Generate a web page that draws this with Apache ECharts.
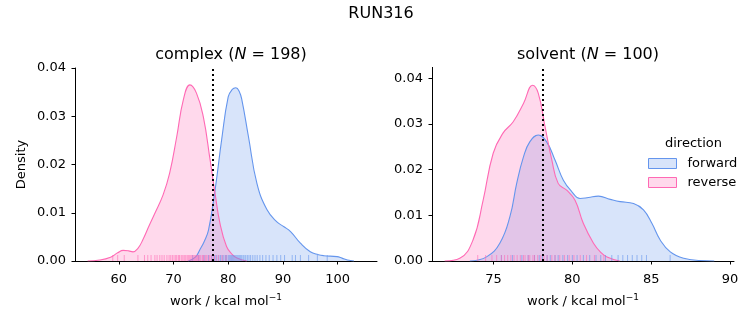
<!DOCTYPE html>
<html>
<head>
<meta charset="utf-8">
<script src="https://cdn.jsdelivr.net/npm/echarts@6/dist/echarts.min.js"></script>
<style>html,body{margin:0;padding:0;background:#fff}#c{width:753px;height:325px}</style>
</head>
<body>
<div id="c"></div>
<script>
// ---- data ----
const suptitle = 'RUN316';
const panelNames = ['complex', 'solvent'];
const panelN = [198, 100];
const directions = ['forward', 'reverse'];

// complex KDE curves
const complexForwardX = [72.7, 74.0, 74.8, 75.6, 76.4, 77.6, 78.8, 80.0, 80.7, 81.4, 82.0, 82.5, 83.7, 85.25, 87.1, 88.9, 90.2, 91.4, 93.2, 95.0, 96.5, 97.5, 99.9, 100.8, 101.8, 103.0];
const complexForwardY = [0, 0.0008, 0.0023, 0.0040, 0.0064, 0.0147, 0.0251, 0.0340, 0.0355, 0.0359, 0.0352, 0.0334, 0.0258, 0.0161, 0.0106, 0.0081, 0.0071, 0.0061, 0.0037, 0.0019, 0.0013, 0.0011, 0.0009, 0.0006, 0.0002, 0];
const complexReverseX = [54.3, 56.5, 58.5, 59.8, 60.8, 61.8, 62.6, 63.5, 64.4, 65.5, 66.6, 68.1, 69.3, 70.6, 71.8, 73.0, 74.2, 75.45, 76.7, 77.6, 78.5, 79.7, 80.7, 81.6, 83.4];
const complexReverseY = [0, 0.0002, 0.0008, 0.0017, 0.0022, 0.0021, 0.0019, 0.0026, 0.0044, 0.0072, 0.0099, 0.0137, 0.0182, 0.0258, 0.0334, 0.0365, 0.0348, 0.0299, 0.0209, 0.0140, 0.0078, 0.0030, 0.0014, 0.0006, 0];

// solvent KDE curves
const solventForwardX = [73.5, 74.56, 75.4, 76.04, 76.47, 76.9, 77.3, 77.84, 78.37, 78.9, 79.43, 79.96, 80.49, 81.02, 81.65, 82.4, 83.03, 83.88, 84.51, 85.05, 85.57, 86.21, 87.06, 88.1, 89.0];
const solventForwardY = [0, 0.0009, 0.0039, 0.0097, 0.0170, 0.0228, 0.0261, 0.0276, 0.0261, 0.0221, 0.0177, 0.0152, 0.0137, 0.0139, 0.0142, 0.0135, 0.0130, 0.0126, 0.0112, 0.0082, 0.0046, 0.0020, 0.0006, 0.0001, 0];
const solventReverseX = [71.9, 72.86, 73.7, 74.34, 74.98, 75.6, 76.25, 76.9, 77.48, 77.84, 78.27, 78.7, 79.1, 79.64, 80.17, 80.7, 81.34, 81.8, 82.2, 83.0];
const solventReverseY = [0, 0.0006, 0.0046, 0.0133, 0.0236, 0.0280, 0.0305, 0.0345, 0.0385, 0.0367, 0.0294, 0.0221, 0.0170, 0.0155, 0.0133, 0.0082, 0.0039, 0.0019, 0.0009, 0];

// rug samples
const complexForwardRug = [73.5, 74.6, 75.6, 76.4, 77.0, 77.5, 77.9, 78.3, 78.6, 78.9, 79.2, 79.5, 79.7, 80.0, 80.2, 80.4, 80.6, 80.8, 81.0, 81.2, 81.4, 81.6, 81.8, 82.0, 82.2, 82.4, 82.7, 82.9, 83.2, 83.5, 83.8, 84.1, 84.5, 84.9, 85.3, 85.8, 86.3, 86.9, 87.5, 88.2, 88.9, 89.6, 90.3, 91.7, 92.3, 93.2, 94.7, 96.3, 98.1];
const complexReverseRug = [58.9, 59.8, 61.0, 63.5, 64.7, 65.3, 65.9, 66.6, 67.0, 67.5, 67.9, 68.3, 68.8, 69.2, 69.5, 69.8, 70.1, 70.4, 70.6, 70.9, 71.1, 71.4, 71.6, 71.9, 72.1, 72.3, 72.6, 72.8, 73.0, 73.2, 73.4, 73.6, 73.8, 74.0, 74.2, 74.4, 74.6, 74.8, 75.0, 75.3, 75.5, 75.8, 76.0, 76.3, 76.6, 76.9, 77.3, 77.7, 78.2, 78.9, 79.6];
const solventForwardRug = [75.5, 76.2, 76.8, 77.2, 77.6, 77.9, 78.1, 78.4, 78.6, 78.9, 79.1, 79.4, 79.7, 80.0, 80.3, 80.7, 81.1, 81.5, 81.8, 82.1, 82.5, 82.9, 83.2, 83.5, 83.8, 84.1, 84.4, 84.7, 86.2];
const solventReverseRug = [74.0, 74.5, 74.9, 75.2, 75.5, 75.7, 75.9, 76.1, 76.3, 76.5, 76.7, 76.9, 77.0, 77.2, 77.3, 77.5, 77.6, 77.8, 78.0, 78.2, 78.4, 78.7, 78.9, 79.2, 79.5, 79.8, 80.1, 80.5, 80.9, 81.4, 82.0];

// dotted reference lines
const refLines = [77.2, 78.1];

// axis ticks / ranges
const xTicks = [[60, 70, 80, 90, 100], [75, 80, 85, 90]];
const yTicks = [0, 0.01, 0.02, 0.03, 0.04];
const xRanges = [[52.0, 107.2], [71.1, 90.25]];
const yMax = [0.0400, 0.0424];

// ---- styling ----
const FONT = 'DejaVu Sans';
const colors = {forward: '#6495ED', reverse: '#FF69B4'};
const fills = {forward: 'rgba(100,149,237,0.25)', reverse: 'rgba(255,105,180,0.25)'};

const zip = (xs, ys) => xs.map((x, i) => [x, ys[i]]);
const curves = [
  {forward: zip(complexForwardX, complexForwardY), reverse: zip(complexReverseX, complexReverseY)},
  {forward: zip(solventForwardX, solventForwardY), reverse: zip(solventReverseX, solventReverseY)}
];
const rugs = [
  {forward: complexForwardRug, reverse: complexReverseRug},
  {forward: solventForwardRug, reverse: solventReverseRug}
];

const grids = [
  {left: 75, right: 376, top: 68, bottom: 64},
  {left: 432, right: 19, top: 67.4, bottom: 64}
];

const axisCommon = {
  axisLine: {show: true, lineStyle: {color: '#000', width: 1}},
  axisTick: {show: true, length: 3.5, lineStyle: {color: '#000', width: 1}},
  splitLine: {show: false},
  axisLabel: {color: '#000', fontFamily: FONT, fontSize: 13}
};

const xAxes = [0, 1].map(i => ({
  type: 'value', gridIndex: i, min: xRanges[i][0], max: xRanges[i][1],
  ...axisCommon,
  axisTick: {...axisCommon.axisTick, customValues: xTicks[i]},
  axisLabel: {...axisCommon.axisLabel, margin: 12, customValues: xTicks[i], formatter: v => String(v)},
  name: 'work / kcal mol{s|−1}', nameLocation: 'middle', nameGap: 32,
  nameTextStyle: {color: '#000', fontFamily: FONT, fontSize: 13,
    rich: {s: {fontSize: 9, fontFamily: FONT, color: '#000', verticalAlign: 'top', padding: [0, 0, 8, 0]}}}
}));

const yAxes = [0, 1].map(i => ({
  type: 'value', gridIndex: i, min: 0, max: yMax[i],
  ...axisCommon,
  axisTick: {...axisCommon.axisTick, customValues: yTicks},
  axisLabel: {...axisCommon.axisLabel, margin: 9, customValues: yTicks, formatter: v => v.toFixed(2)},
  name: i === 0 ? 'Density' : '', nameLocation: 'middle', nameGap: 47,
  nameTextStyle: {color: '#000', fontFamily: FONT, fontSize: 13}
}));

const series = [];
[0, 1].forEach(i => {
  directions.forEach(d => {
    series.push({
      name: d, type: 'line', xAxisIndex: i, yAxisIndex: i,
      data: curves[i][d], smooth: 0.45, showSymbol: false,
      lineStyle: {color: colors[d], width: 1.1},
      itemStyle: {color: colors[d]},
      areaStyle: {color: fills[d], opacity: 1},
      silent: true, z: 2
    });
  });
  directions.forEach(d => {
    series.push({
      name: d, type: 'scatter', xAxisIndex: i, yAxisIndex: i,
      data: rugs[i][d].map(v => [v, 0]),
      symbol: 'rect', symbolSize: [1, 6], symbolOffset: [0, -3],
      itemStyle: {color: colors[d], opacity: 0.6},
      silent: true, z: 3
    });
  });
  series.push({
    type: 'line', xAxisIndex: i, yAxisIndex: i, data: [], silent: true,
    markLine: {
      symbol: 'none', silent: true, label: {show: false},
      lineStyle: {color: '#000', type: [2, 3], width: 2},
      data: [{xAxis: refLines[i]}]
    }, z: 5
  });
});

const titles = [0, 1].map(i => ({
  text: panelNames[i] + ' ({it|N} = ' + panelN[i] + ')',
  left: (i === 0 ? (75 + 377) / 2 : (432 + 734) / 2), top: 42, textAlign: 'center',
  textStyle: {fontFamily: FONT, fontSize: 16, fontWeight: 'normal', color: '#000',
    rich: {it: {fontFamily: FONT, fontSize: 16, fontStyle: 'italic', color: '#000'}}}
}));
titles.unshift({text: suptitle, left: 376, top: 1, textAlign: 'center',
  textStyle: {fontFamily: FONT, fontSize: 16, fontWeight: 'normal', color: '#000'}});

const chart = echarts.init(document.getElementById('c'), null, {renderer: 'canvas'});
chart.setOption({
  animation: false,
  backgroundColor: '#fff',
  title: titles,
  grid: grids,
  xAxis: xAxes,
  yAxis: yAxes,
  legend: {
    data: directions.map(d => ({name: d, icon: 'rect',
      itemStyle: {color: fills[d], borderColor: colors[d], borderWidth: 1}})),
    orient: 'vertical', left: 648, top: 157, itemWidth: 28, itemHeight: 10, itemGap: 6,
    padding: 0,
    selectedMode: false,
    textStyle: {fontFamily: FONT, fontSize: 13, color: '#000', padding: [0, 0, 0, 6]}
  },
  graphic: [{type: 'text', left: 665, top: 137,
    style: {text: 'direction', fontFamily: FONT, fontSize: 13, fill: '#000'}}],
  series: series
});
</script>
</body>
</html>
